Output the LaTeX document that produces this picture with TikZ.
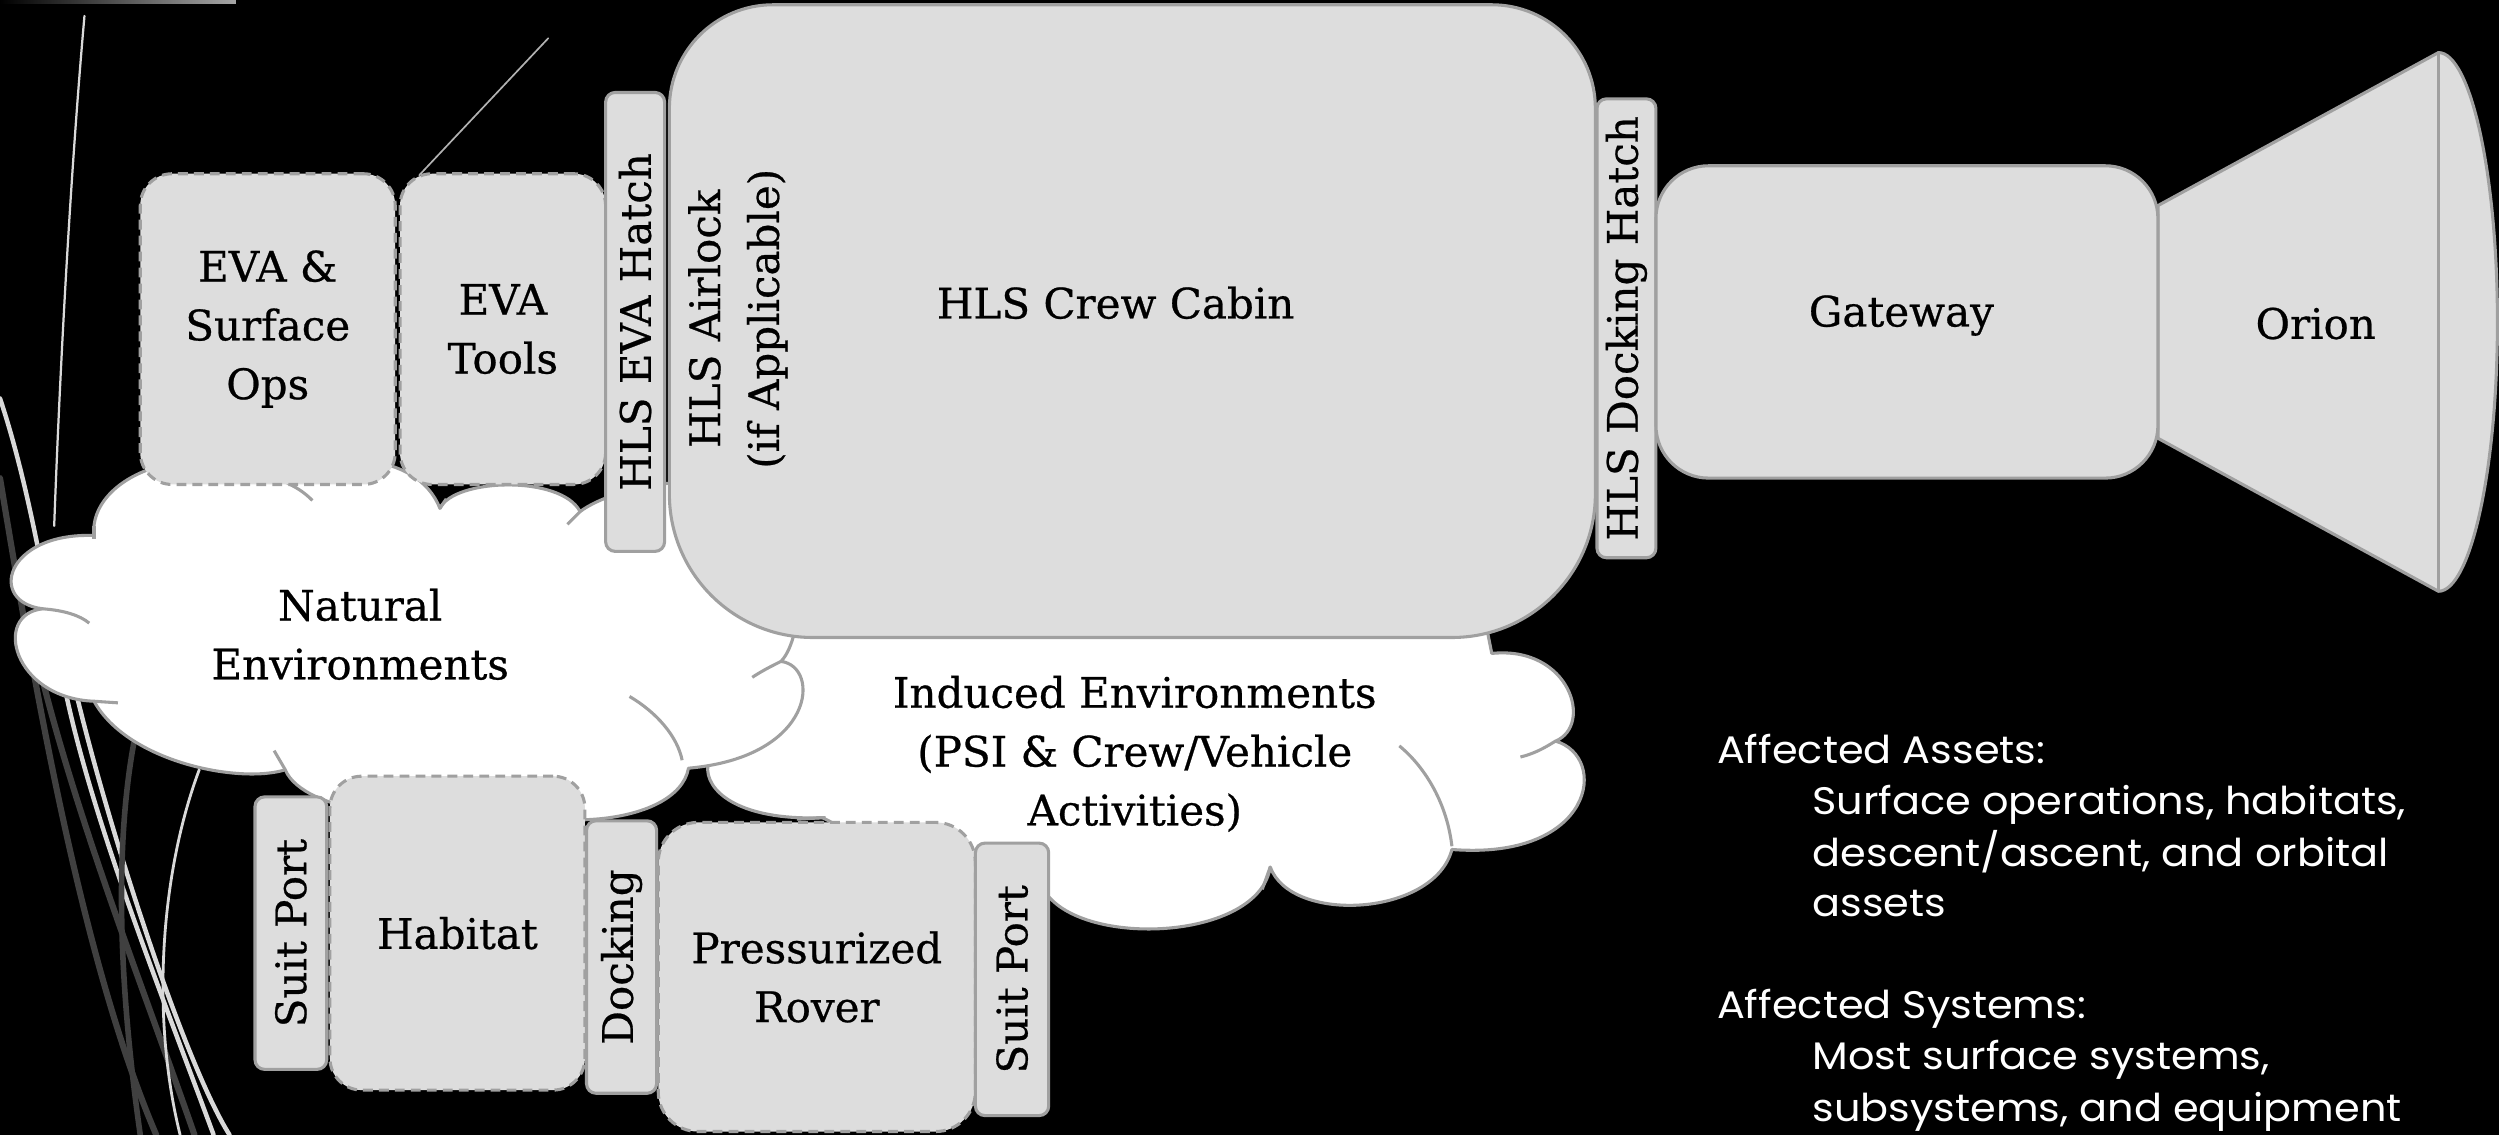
\documentclass[tikz,border=0pt]{standalone}
\usepackage{fontspec}
\setmainfont[FakeBold=0.6]{DejaVu Serif}
\newfontfamily\gothic[FakeStretch=1.08]{Poppins}
\definecolor{boxfill}{HTML}{DDDDDD}
\definecolor{edge}{HTML}{A0A0A0}
\definecolor{dline}{HTML}{404040}
\definecolor{wline}{HTML}{D9D9D9}
\begin{document}
\begin{tikzpicture}[x=0.02cm, y=-0.02cm,
  solidbox/.style={draw=edge, fill=boxfill, line width=1.1pt, rounded corners=0.12cm, inner sep=0pt, font=\fontsize{15}{21}\selectfont, align=center},
  dashbox/.style={solidbox, dash pattern=on 3.5pt off 2.2pt, rounded corners=0.4cm},
  cloudshape/.style={fill=white, draw=edge, line width=1.1pt, line join=round},
  innerarc/.style={draw=edge, line width=1.1pt},
  lbl/.style={font=\fontsize{15}{21}\selectfont, align=center, inner sep=0pt},
  info/.style={text=white, font=\gothic\fontsize{13.7}{18}\selectfont, inner sep=0pt, anchor=base west},
  deco/.style={line cap=round}
]
\fill[black] (0,0) rectangle (1568,712);
\useasboundingbox (0,0) rectangle (1568,712);

% decorative lines
\shade[left color=black, right color=gray!70] (0,0) rectangle (148,2);
\draw[deco, wline, line width=0.8pt] (53,10) .. controls (45,100) and (38,220) .. (34,330);
\draw[deco, wline, line width=1.6pt] (0,250) .. controls (20,310) and (30,380) .. (42,438) .. controls (60,520) and (100,620) .. (134,712);
\draw[deco, wline, line width=1.6pt] (40,400) .. controls (50,450) and (70,520) .. (90,580) .. controls (110,640) and (130,690) .. (144,712);
\draw[deco, dline, line width=2.2pt] (0,300) .. controls (20,420) and (50,600) .. (98,712);
\draw[deco, dline, line width=2.2pt] (25,420) .. controls (50,520) and (90,620) .. (122,712);
\draw[deco, dline, line width=2pt] (84,466) .. controls (74,520) and (72,600) .. (88,712);
\draw[deco, wline, line width=1pt] (125,483) .. controls (100,550) and (95,640) .. (113,712);
\draw[deco, gray!60, line width=0.6pt] (344,24) -- (263,110);

% induced environments cloud
\path[cloudshape] (497,395) -- (933,395) -- (936,410)
  .. controls (985,405) and (1000,455) .. (976,465)
  .. controls (1010,475) and (1000,540) .. (911,533)
  .. controls (900,575) and (810,580) .. (797,544)
  .. controls (790,590) and (680,595) .. (656,560)
  .. controls (600,560) and (540,525) .. (516,513)
  .. controls (470,515) and (445,500) .. (444,483)
  .. controls (445,450) and (480,420) .. (497,395) -- cycle;
\draw[innerarc] (500,514) -- (518,513);
\draw[innerarc] (797,544) -- (792,558);
\draw[innerarc] (911,531) .. controls (908,505) and (895,482) .. (878,468);
\draw[innerarc] (976,465) .. controls (968,470) and (962,473) .. (954,475);

% natural environments cloud
\path[cloudshape] (27,382)
  .. controls (-8,378) and (3,334) .. (59,336)
  .. controls (55,300) and (120,270) .. (182,304)
  .. controls (200,282) and (262,282) .. (276,319)
  .. controls (285,300) and (352,298) .. (364,321)
  .. controls (385,305) and (455,290) .. (470,320)
  .. controls (510,330) and (505,400) .. (490,415)
  .. controls (515,418) and (512,475) .. (432,482)
  .. controls (425,520) and (330,525) .. (290,495)
  .. controls (270,520) and (190,510) .. (179,483)
  .. controls (150,492) and (80,478) .. (59,440)
  .. controls (8,438) and (-5,385) .. (27,382) -- cycle;
\draw[innerarc] (27,382) .. controls (40,383) and (50,386) .. (56,391);
\draw[innerarc] (59,338) -- (59,330);
\draw[innerarc] (59,440) -- (74,441);
\draw[innerarc] (179,483) -- (172,471);
\draw[innerarc] (182,304) .. controls (188,307) and (192,310) .. (196,314);
\draw[innerarc] (276,319) -- (280,313);
\draw[innerarc] (364,321) -- (356,329);
\draw[innerarc] (428,477) .. controls (425,462) and (412,447) .. (395,437);
\draw[innerarc] (490,415) .. controls (484,418) and (478,421) .. (472,425);

% orion
\path[draw=edge, fill=boxfill, line width=1.1pt, line join=round] (1354,129) -- (1530,33)
  .. controls (1550,33) and (1567,109) .. (1567,202)
  .. controls (1567,295) and (1550,371) .. (1530,371) -- (1354,275) -- cycle;
\draw[edge, line width=1.1pt] (1530,33) -- (1530,371);

% crew cabin
\path[draw=edge, fill=boxfill, line width=1.1pt] (420,200) [rounded corners=1.3cm] -- (420,3) -- (1001,3) -- (1001,200)
  [rounded corners=1.8cm] -- (1001,400) -- (420,400) -- (420,200) -- cycle;

% boxes
\node[dashbox, minimum width=3.2cm, minimum height=3.9cm] (evaops) at (168,206.5) {EVA \&\\Surface\\Ops};
\node[dashbox, minimum width=2.58cm, minimum height=3.9cm] (evatools) at (315.5,206.5) {EVA\\Tools};
\node[solidbox, rotate=90, minimum width=5.76cm, minimum height=0.74cm] (evahatch) at (398.5,202) {HLS EVA Hatch};
\node[solidbox, rotate=90, minimum width=5.76cm, minimum height=0.74cm] (dockhatch) at (1020.5,206) {HLS Docking Hatch};
\node[solidbox, rounded corners=0.66cm, minimum width=6.3cm, minimum height=3.92cm] (gateway) at (1196.5,202) {};
\node[solidbox, rotate=90, minimum width=3.42cm, minimum height=0.9cm] (suitL) at (182.5,585.5) {Suit Port};
\node[dashbox, minimum width=3.2cm, minimum height=3.94cm] (habitat) at (287,585.5) {Habitat};
\node[solidbox, rotate=90, minimum width=3.42cm, minimum height=0.88cm] (docking) at (390,600.5) {Docking};
\node[dashbox, rounded corners=0.5cm, minimum width=3.98cm, minimum height=3.88cm] (rover) at (512.5,613) {Pressurized\\Rover};
\node[solidbox, rotate=90, minimum width=3.42cm, minimum height=0.92cm] (suitR) at (635,614.5) {Suit Port};

% labels
\node[lbl] (cabinlbl) at (700,190) {HLS Crew Cabin};
\node[lbl, rotate=90] (airlock) at (463,200) {HLS Airlock\\(if Applicable)};
\node[lbl] (gatelbl) at (1193,198) {Gateway};
\node[lbl] (orionlbl) at (1453,203) {Orion};
\node[lbl] (natural) at (226,398) {Natural\\Environments};
\node[lbl] (induced) at (712,473) {Induced Environments\\(PSI \& Crew/Vehicle\\Activities)};

% info text
\node[info] (a1) at (1077,479) {Affected Assets:};
\node[info] (a2) at (1137,511) {Surface operations, habitats,};
\node[info] (a3) at (1137,543.5) {descent/ascent, and orbital};
\node[info] (a4) at (1137,575) {assets};
\node[info] (s1) at (1077,639) {Affected Systems:};
\node[info] (s2) at (1137,671) {Most surface systems,};
\node[info] (s3) at (1137,703.5) {subsystems, and equipment};
\end{tikzpicture}
\end{document}
